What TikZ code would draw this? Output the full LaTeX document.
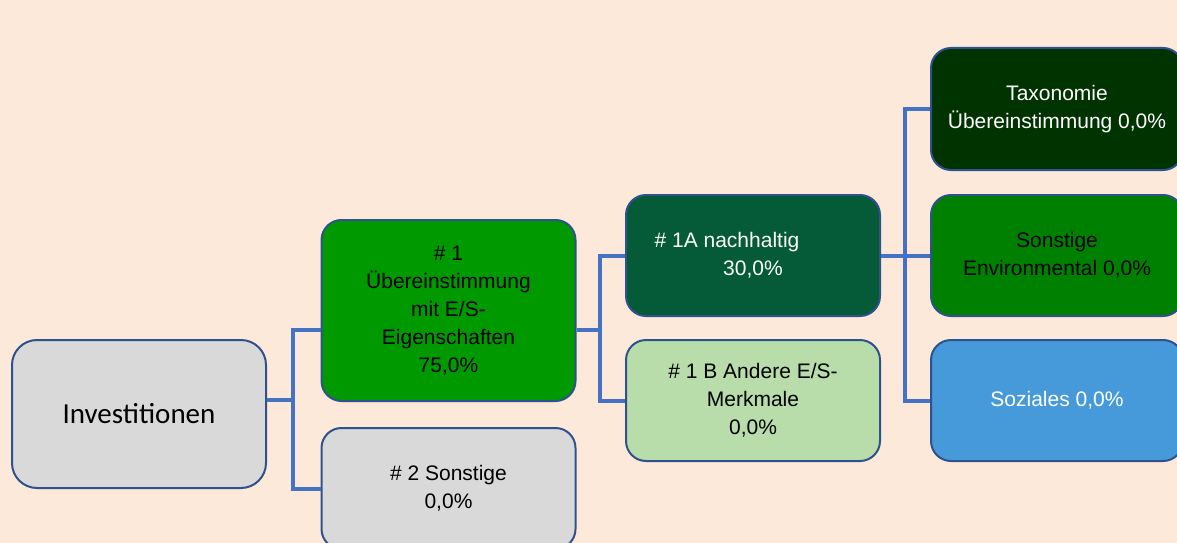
\documentclass[tikz,border=0pt]{standalone}
\usepackage{fontspec}
\setmainfont{Liberation Sans}
\newfontfamily\calibri{Carlito}
\usepackage{tikz}

\definecolor{peach}{HTML}{FDE9D9}
\definecolor{frame}{HTML}{2F528F}
\definecolor{link}{HTML}{4472C4}
\definecolor{greybox}{HTML}{D9D9D9}
\definecolor{greenone}{HTML}{009900}
\definecolor{greenA}{HTML}{055A37}
\definecolor{greenB}{HTML}{B9DCAB}
\definecolor{taxgreen}{HTML}{003300}
\definecolor{envgreen}{HTML}{008000}
\definecolor{socblue}{HTML}{479ADA}

\begin{document}
\begin{tikzpicture}[x=1pt,y=-1pt,
  box/.style={draw=frame, line width=2pt, rounded corners=20pt, align=center,
    minimum width=254pt, minimum height=121pt, inner sep=0pt,
    font=\fontsize{21}{28}\selectfont},
  conn/.style={draw=link, line width=4pt}]
\useasboundingbox (0,0) rectangle (1177,543);
\clip (0,0) rectangle (1177,543);
\fill [peach] (0,0) rectangle (1177,543);
% boxes
\node [box, fill=greybox, rounded corners=25pt, minimum height=148pt,
  font=\calibri\fontsize{29}{35}\selectfont] (inv) at (139,414) {Investitionen};
\node [box, fill=greenone, minimum height=181pt] (n1) at (448.5,310.5)
  {\# 1\\Übereinstimmung\\mit E/S-\\Eigenschaften\\75,0\%};
\node [box, fill=greybox] (n2) at (448.5,488.5) {\# 2 Sonstige\\0,0\%};
\node [box, fill=greenA, text=white] (n1a) at (753,255.5)
  {\# 1A nachhaltig\hspace*{52pt}\\30,0\%};
\node [box, fill=greenB] (n1b) at (753,400.5) {\# 1 B Andere E/S-\\Merkmale\\0,0\%};
\node [box, fill=taxgreen, text=white, minimum width=252pt, minimum height=122pt]
  (tax) at (1057,109) {Taxonomie\\Übereinstimmung 0,0\%};
\node [box, fill=envgreen, minimum width=252pt] (env) at (1057,255.5)
  {Sonstige\\Environmental 0,0\%};
\node [box, fill=socblue, text=white, minimum width=252pt] (soz) at (1057,400.5)
  {Soziales 0,0\%};
% connectors
\coordinate (j0) at (293,400);
\coordinate (j1) at (600,330);
\coordinate (j2) at (905,255.5);
\draw [conn] (inv.east |- j0) -- (j0);
\draw [conn] ([yshift=-19.5pt]n1.west) -| (j0) |- (n2.west);
\draw [conn] ([yshift=-19.5pt]n1.east) -- (j1);
\draw [conn] (n1a.west) -| (j1) |- (n1b.west);
\draw [conn] (n1a.east) -- (env.west);
\draw [conn] (tax.west) -| (j2) |- (soz.west);
\end{tikzpicture}
\end{document}
